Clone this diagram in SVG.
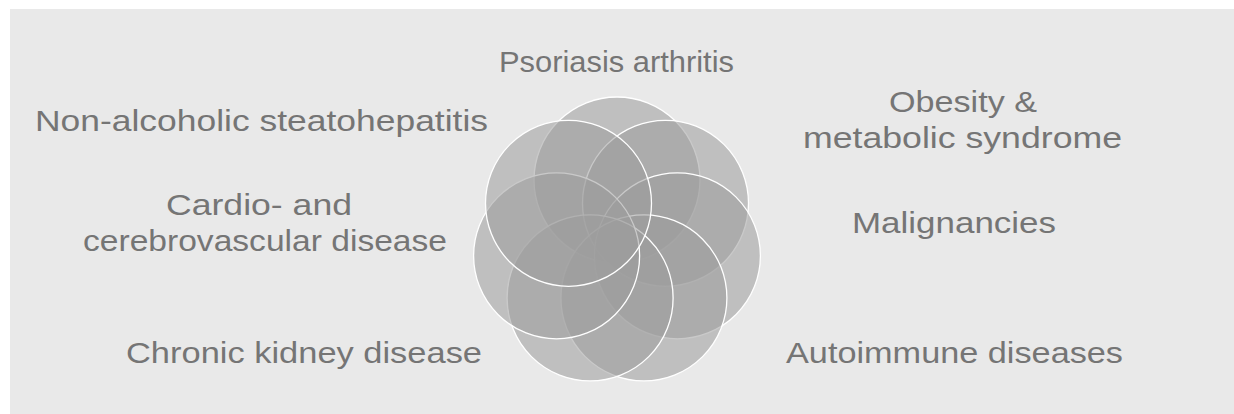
<svg xmlns="http://www.w3.org/2000/svg" width="1234" height="414" viewBox="0 0 1234 414">
  <style>
    .bg { fill: #e9e9e9; }
    .petal { fill: #9c9c9c; fill-opacity: 0.55; stroke: #ffffff; stroke-width: 1.3; }
    .lbl { font-family: "Liberation Sans", Arial, sans-serif; font-size: 30px; fill: #757575; }
  </style>
  <rect x="0" y="0" width="1234" height="414" fill="#ffffff"/>
  <rect class="bg" x="10" y="9" width="1224" height="405"/>
  <g id="flower">
    <circle id="c1" class="petal" cx="617" cy="180" r="83"/>
    <circle id="c2" class="petal" cx="665.5" cy="203.3" r="83"/>
    <circle id="c3" class="petal" cx="677.4" cy="255.8" r="83"/>
    <circle id="c4" class="petal" cx="643.9" cy="297.9" r="83"/>
    <circle id="c5" class="petal" cx="590.1" cy="297.9" r="83"/>
    <circle id="c6" class="petal" cx="556.6" cy="255.8" r="83"/>
    <circle id="c7" class="petal" cx="568.5" cy="203.3" r="83"/>
  </g>
  <g id="connectors"/>
  <g id="n-psoriasis"><text class="lbl" x="499" y="72" textLength="235" lengthAdjust="spacingAndGlyphs">Psoriasis arthritis</text></g>
  <g id="n-nash"><text class="lbl" x="35" y="131" textLength="453" lengthAdjust="spacingAndGlyphs">Non-alcoholic steatohepatitis</text></g>
  <g id="n-obesity">
    <text class="lbl" x="889" y="112" textLength="148" lengthAdjust="spacingAndGlyphs">Obesity &amp;</text>
    <text class="lbl" x="803" y="148" textLength="319" lengthAdjust="spacingAndGlyphs">metabolic syndrome</text>
  </g>
  <g id="n-cardio">
    <text class="lbl" x="166" y="215" textLength="186" lengthAdjust="spacingAndGlyphs">Cardio- and</text>
    <text class="lbl" x="83" y="251" textLength="364" lengthAdjust="spacingAndGlyphs">cerebrovascular disease</text>
  </g>
  <g id="n-malig"><text class="lbl" x="852" y="233" textLength="204" lengthAdjust="spacingAndGlyphs">Malignancies</text></g>
  <g id="n-ckd"><text class="lbl" x="126" y="363" textLength="356" lengthAdjust="spacingAndGlyphs">Chronic kidney disease</text></g>
  <g id="n-auto"><text class="lbl" x="786" y="363" textLength="337" lengthAdjust="spacingAndGlyphs">Autoimmune diseases</text></g>
</svg>
